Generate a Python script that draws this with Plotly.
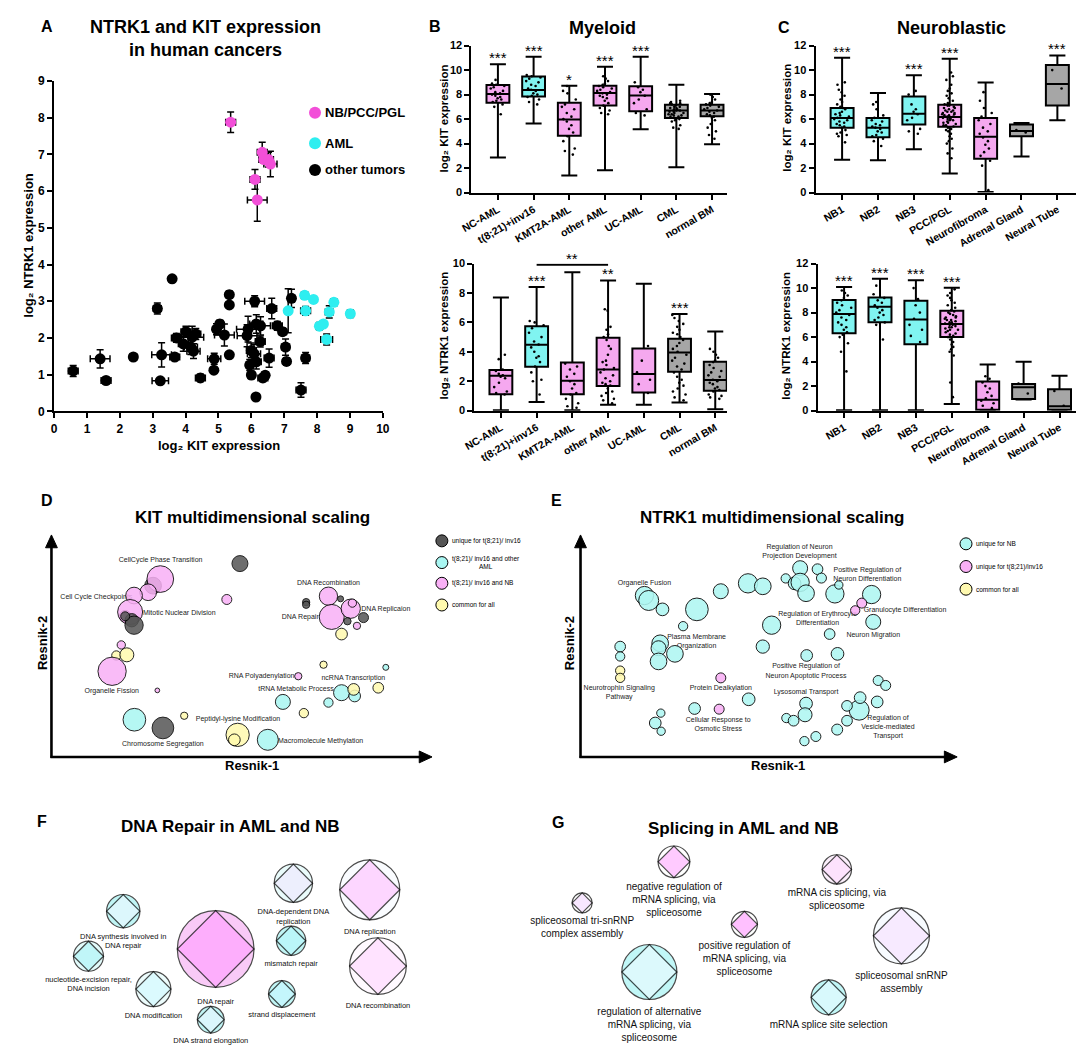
import plotly.graph_objects as go

W, H = 1084, 1045
FONT = "Liberation Sans, Arial, Helvetica, sans-serif"


def PX(x):
    return x / W


def PY(y):
    return 1 - y / H


PINK_BOX = "#F5A8EF"
CYAN_BOX = "#80F4F1"
GRAY_BOX = "#A6A6A6"

# ---------------- Panel A data ----------------
a_groups = ["NB/PCC/PGL", "AML", "other tumors"]
a_colors = ["#F24FD8", "#2EEEF0", "#000000"]

nb_kit = [5.37, 6.33, 6.38, 6.52, 6.58, 6.11, 6.18]
nb_ntrk = [7.88, 7.06, 6.86, 6.86, 6.74, 6.32, 5.76]
nb_kit_err = [0.15, 0.15, 0.15, 0.15, 0.20, 0.15, 0.30]
nb_ntrk_err = [0.28, 0.27, 0.10, 0.20, 0.35, 0.27, 0.58]

aml_kit = [7.12, 7.62, 7.89, 7.65, 8.37, 8.51, 9.01, 8.07, 8.19, 8.29]
aml_ntrk = [2.74, 3.16, 3.05, 2.74, 2.71, 2.97, 2.66, 2.32, 2.38, 1.96]
aml_kit_err = [0.05, 0.10, 0.05, 0.15, 0.12, 0.08, 0.10, 0.10, 0.08, 0.18]
aml_ntrk_err = [0.60, 0.10, 0.05, 0.12, 0.17, 0.10, 0.10, 0.10, 0.08, 0.15]

oth_kit = [0.58, 1.40, 1.58, 2.41, 3.14, 3.27, 3.23, 3.59, 3.67, 3.72, 3.93, 4.01,
           4.16, 4.24, 4.31, 4.20, 4.45, 4.86, 4.87, 4.94, 5.04, 5.18, 5.33, 5.33,
           5.33, 5.87, 5.90, 6.10, 6.15, 6.28, 6.27, 5.95, 6.00, 6.08, 6.15, 6.00,
           6.14, 6.35, 6.42, 6.54, 6.62, 6.79, 6.95, 7.04, 7.07, 7.22, 7.51, 7.65]
oth_ntrk = [1.10, 1.43, 0.84, 1.48, 2.80, 1.54, 0.83, 3.61, 1.48, 2.00, 1.84, 2.17,
            1.75, 1.64, 2.11, 2.02, 0.91, 1.12, 1.43, 2.24, 2.38, 2.08, 3.18, 2.90,
            1.54, 2.06, 2.24, 3.00, 2.38, 2.33, 1.90, 1.26, 1.66, 1.57, 1.35, 0.99,
            0.39, 0.91, 0.98, 1.45, 2.80, 2.33, 2.17, 1.75, 1.36, 3.08, 0.58, 1.45]
oth_kit_err = [0.15, 0.30, 0.15, 0.10, 0.12, 0.30, 0.25, 0.08, 0.15, 0.15, 0.15, 0.15,
               0.20, 0.20, 0.15, 0.35, 0.15, 0.05, 0.20, 0.10, 0.10, 0.30, 0.05, 0.05,
               0.07, 0.30, 0.35, 0.30, 0.20, 0.30, 0.15, 0.10, 0.15, 0.20, 0.15, 0.10,
               0.05, 0.15, 0.10, 0.15, 0.15, 0.15, 0.12, 0.12, 0.10, 0.10, 0.15, 0.12]
oth_ntrk_err = [0.15, 0.25, 0.05, 0.05, 0.15, 0.33, 0.07, 0.05, 0.05, 0.12, 0.20, 0.15,
                0.20, 0.20, 0.15, 0.30, 0.10, 0.05, 0.15, 0.15, 0.10, 0.30, 0.10, 0.05,
                0.08, 0.30, 0.35, 0.15, 0.25, 0.25, 0.15, 0.15, 0.20, 0.25, 0.20, 0.10,
                0.05, 0.10, 0.10, 0.25, 0.28, 0.12, 0.10, 0.22, 0.10, 0.25, 0.20, 0.15]

# ---------------- Panel B data (Myeloid) ----------------
my_cats = ["NC-AML", "t(8;21)+inv16", "KMT2A-AML", "other AML", "UC-AML", "CML", "normal BM"]
my_colors = [PINK_BOX, CYAN_BOX, PINK_BOX, PINK_BOX, PINK_BOX, GRAY_BOX, GRAY_BOX]

kit_my_min = [2.87, 5.64, 1.40, 1.83, 5.18, 2.07, 3.95]
kit_my_q1 = [7.33, 7.84, 4.64, 7.11, 6.63, 6.09, 6.23]
kit_my_med = [8.05, 8.38, 5.96, 8.13, 7.92, 6.71, 6.71]
kit_my_q3 = [8.78, 9.48, 7.33, 8.72, 8.67, 7.17, 7.17]
kit_my_max = [10.47, 11.09, 8.72, 10.28, 11.09, 8.81, 8.05]
kit_my_sig = ["***", "***", "*", "***", "***", "", ""]
kit_my_dots = [
    [9.2, 8.9, 8.8, 8.7, 8.6, 8.5, 8.3, 8.2, 8.1, 8.0, 7.9, 7.8, 7.7, 7.6, 7.5, 7.4, 7.2, 7.0, 6.4],
    [9.6, 9.5, 9.4, 9.3, 9.1, 9.0, 8.8, 8.7, 8.5, 8.4, 8.3, 8.1, 8.0, 7.9, 7.8, 7.6, 7.4, 7.2],
    [8.7, 8.3, 8.1, 7.6, 7.2, 7.0, 6.8, 6.5, 6.2, 6.0, 5.8, 5.5, 5.2, 4.9, 4.6, 4.2, 3.6, 3.4, 3.1],
    [9.5, 9.3, 9.1, 8.9, 8.8, 8.7, 8.6, 8.5, 8.4, 8.3, 8.2, 8.1, 8.0, 7.9, 7.8, 7.7, 7.5, 7.3,
     7.1, 6.9, 6.7, 6.5, 6.4],
    [9.0, 8.6, 8.4, 8.2, 7.9, 7.6, 7.3, 6.8, 6.5, 6.3],
    [7.5, 7.4, 7.3, 7.3, 7.2, 7.1, 7.0, 7.0, 6.9, 6.9, 6.8, 6.8, 6.7, 6.7, 6.6, 6.6, 6.5, 6.5,
     6.4, 6.4, 6.3, 6.3, 6.2, 6.2, 6.1, 6.1, 6.0, 6.0, 5.9, 5.8, 5.5, 5.3, 5.2],
    [8.0, 7.8, 7.6, 7.4, 7.3, 7.2, 7.1, 7.0, 6.9, 6.8, 6.7, 6.6, 6.5, 6.4, 6.3, 6.2, 6.1, 5.9,
     5.6, 5.3, 5.0, 4.7, 4.4],
]

ntrk_my_min = [0.03, 0.58, 0.03, 0.40, 0.40, 0.56, 0.10]
ntrk_my_q1 = [1.12, 2.98, 1.12, 1.68, 1.23, 2.65, 1.35]
ntrk_my_med = [2.38, 4.48, 2.04, 2.80, 2.49, 3.95, 2.09]
ntrk_my_q3 = [2.76, 5.74, 3.27, 4.96, 4.22, 4.89, 3.32]
ntrk_my_max = [7.69, 8.41, 9.42, 8.86, 8.63, 6.57, 5.38]
ntrk_my_sig = ["", "***", "", "**", "", "***", ""]
ntrk_my_dots = [
    [3.8, 3.5, 2.8, 2.7, 2.5, 2.4, 2.3, 2.2, 1.9, 1.6, 1.3, 1.2, 1.1],
    [6.1, 6.0, 5.8, 5.6, 5.3, 5.0, 4.7, 4.5, 4.3, 4.0, 3.7, 3.6, 3.3, 3.0, 2.6, 2.1, 2.0, 1.1],
    [3.2, 3.0, 2.8, 2.5, 2.3, 2.0, 1.8, 1.5, 1.2, 1.1, 0.8, 0.5, 0.3, 0.2],
    [6.9, 6.8, 5.7, 5.5, 5.2, 5.0, 4.8, 4.4, 4.2, 3.8, 3.4, 3.3, 3.1, 2.9, 2.8, 2.6, 2.4, 2.2,
     2.0, 1.9, 1.8, 1.7, 1.5, 1.3, 1.2, 1.0, 0.8, 0.7, 0.5],
    [4.4, 3.4, 2.6, 2.1, 1.8, 1.2],
    [6.5, 6.3, 6.1, 5.9, 5.7, 5.5, 5.3, 5.2, 5.0, 4.8, 4.6, 4.4, 4.2, 4.0, 3.8, 3.6, 3.4, 3.2,
     3.0, 2.8, 2.6, 2.3, 2.1, 1.9, 1.7, 1.5, 1.3, 1.1, 0.9, 0.7],
    [4.2, 4.0, 3.8, 3.6, 3.4, 3.3, 3.1, 2.9, 2.7, 2.6, 2.4, 2.3, 2.1, 2.0, 1.9, 1.8, 1.6, 1.5,
     1.4, 1.3, 1.1, 1.0, 0.9, 0.8],
]
bracket_pair = ["t(8;21)+inv16", "other AML"]
bracket_level = 9.93
bracket_sig = "**"

# ---------------- Panel C data (Neuroblastic) ----------------
nb_cats = ["NB1", "NB2", "NB3", "PCC/PGL", "Neurofibroma", "Adrenal Gland", "Neural Tube"]
nb_colors = [CYAN_BOX, CYAN_BOX, CYAN_BOX, PINK_BOX, PINK_BOX, GRAY_BOX, GRAY_BOX]

kit_nb_min = [2.68, 2.63, 3.54, 1.56, 0.05, 2.95, 5.91]
kit_nb_q1 = [5.29, 4.51, 5.56, 5.37, 2.77, 4.60, 7.11]
kit_nb_med = [6.09, 5.29, 6.44, 6.17, 4.56, 5.03, 8.86]
kit_nb_q3 = [6.90, 6.09, 7.84, 7.17, 6.09, 5.56, 10.42]
kit_nb_max = [11.0, 8.13, 9.57, 10.93, 8.99, 5.69, 11.2]
kit_nb_sig = ["***", "", "***", "***", "", "", "***"]
kit_nb_dots = [
    [9.0, 8.8, 8.4, 8.2, 7.9, 7.6, 7.4, 7.2, 7.0, 6.9, 6.8, 6.6, 6.5, 6.4, 6.3, 6.2, 6.1, 6.0,
     5.9, 5.8, 5.7, 5.6, 5.5, 5.4, 5.3, 5.1, 4.9, 4.8, 4.7, 4.6, 4.1],
    [7.4, 7.2, 6.8, 6.3, 6.1, 5.9, 5.8, 5.6, 5.5, 5.4, 5.3, 5.2, 5.0, 4.9, 4.7, 4.6, 4.4, 4.2, 3.8],
    [8.3, 8.0, 7.2, 6.8, 6.6, 6.4, 6.1, 5.9, 5.2, 5.0, 4.8],
    [9.8, 9.5, 9.2, 8.8, 8.5, 8.3, 8.1, 7.9, 7.7, 7.5, 7.3, 7.2, 7.1, 7.0, 6.9, 6.8, 6.7, 6.6,
     6.5, 6.4, 6.3, 6.2, 6.1, 6.0, 5.9, 5.8, 5.7, 5.6, 5.5, 5.4, 5.3, 5.2, 5.1, 5.0, 4.8, 4.6,
     4.4, 4.2, 4.0, 3.6, 3.2, 2.8, 7.1, 6.9, 6.7, 6.5, 6.3, 6.1, 5.9, 5.7, 5.5, 6.6, 6.4, 6.2, 6.0],
    [8.2, 7.5, 6.9, 6.5, 6.2, 5.9, 5.6, 5.3, 5.0, 4.8, 4.5, 4.2, 3.9, 3.6, 3.3, 3.0, 2.6, 2.2, 0.2],
    [5.1, 4.9],
    [10.0, 8.5],
]

ntrk_nb_min = [0.03, 0.03, 0.03, 0.54, 0.03, 0.90, 0.03]
ntrk_nb_q1 = [6.32, 7.21, 5.41, 6.00, 0.08, 0.94, 0.08]
ntrk_nb_med = [7.88, 8.47, 7.43, 7.08, 0.89, 1.91, 0.35]
ntrk_nb_q3 = [9.04, 9.23, 8.96, 8.15, 2.37, 2.18, 1.75]
ntrk_nb_max = [10.09, 10.76, 10.65, 10.04, 3.77, 3.98, 2.85]
ntrk_nb_sig = ["***", "***", "***", "***", "", "", ""]
ntrk_nb_dots = [
    [9.8, 9.6, 9.4, 9.2, 9.0, 8.8, 8.6, 8.4, 8.2, 8.0, 7.8, 7.6, 7.4, 7.2, 7.0, 6.8, 6.6, 6.4,
     6.2, 6.0, 5.5, 4.8, 3.2],
    [10.2, 9.5, 9.2, 9.0, 8.8, 8.6, 8.4, 8.2, 8.0, 7.8, 7.6, 7.4, 7.2, 7.0, 5.8],
    [10.0, 9.1, 8.6, 8.0, 7.5, 7.0, 6.6, 6.1, 5.6],
    [9.9, 9.6, 9.4, 9.2, 9.0, 8.8, 8.6, 8.4, 8.2, 8.1, 8.0, 7.9, 7.8, 7.7, 7.6, 7.5, 7.4, 7.3,
     7.2, 7.1, 7.0, 6.9, 6.8, 6.7, 6.6, 6.5, 6.4, 6.3, 6.2, 6.1, 6.0, 5.8, 5.6, 5.4, 5.2, 5.0,
     4.8, 4.5, 2.3, 1.1, 7.6, 7.4, 7.2, 7.0, 6.8, 6.6],
    [2.8, 2.6, 2.3, 2.0, 1.8, 1.5, 1.2, 1.0, 0.8, 0.6, 0.4, 0.2],
    [2.2, 1.4],
    [1.6, 0.4],
]

# ---------------- Panel D data (KIT MDS) ----------------
d_legend = ["unique for t(8;21)/ inv16", "t(8;21)/ inv16 and other<br>AML",
            "t(8;21)/ inv16 and NB", "common for all"]
d_group = ["unique", "unique", "pink", "unique", "pink", "pink", "pink", "unique", "unique",
           "unique", "pink", "yellow", "yellow", "pink", "pink", "pink", "pink", "unique",
           "unique", "unique", "pink", "pink", "pink", "unique", "unique", "pink", "yellow",
           "yellow", "cyan", "pink", "cyan", "cyan", "yellow", "yellow", "cyan", "cyan",
           "yellow", "cyan", "unique", "yellow", "yellow", "yellow", "cyan"]
d_x = [41.0, 67.5, 43.2, 32.5, 39.5, 35.2, 34.0, 34.5, 35.2, 32.5, 31.3, 29.8, 33.0, 28.5,
       42.3, 63.5, 94.5, 98.2, 87.7, 87.7, 95.5, 101.3, 101.8, 100.3, 105.2, 103.2, 98.5,
       93.0, 112.0, 85.3, 98.5, 102.5, 102.2, 109.7, 94.5, 80.6, 87.0, 35.3, 44.0, 50.5,
       66.8, 65.8, 76.0]
d_y = [57.5, 64.2, 59.5, 48.2, 55.5, 54.5, 49.5, 47.0, 45.5, 48.2, 39.5, 36.3, 36.5, 31.5,
       25.7, 53.3, 54.3, 53.5, 52.5, 51.7, 48.0, 50.5, 52.2, 46.7, 47.8, 45.3, 42.8, 33.5,
       32.7, 30.0, 25.0, 24.0, 26.0, 26.5, 22.0, 22.2, 18.8, 16.8, 14.3, 18.0, 12.2, 10.7, 10.7]
d_size = [16.7, 16.0, 26.7, 11.7, 16.7, 16.7, 25.0, 13.3, 18.3, 9.0, 8.3, 9.3, 14.0, 28.3,
          4.7, 10.0, 18.3, 6.0, 7.3, 7.3, 25.0, 19.3, 8.3, 7.3, 10.0, 7.3, 11.7, 7.3, 6.0,
          7.3, 16.0, 11.7, 11.7, 10.7, 9.3, 15.0, 9.3, 22.7, 21.7, 7.3, 23.3, 11.7, 21.0]
d_labels = ["CellCycle Phase Transition", "Cell Cycle Checkpoints", "Mitotic Nuclear Division",
            "Organelle Fission", "Chromosome Segregation", "Peptidyl-lysine Modification",
            "Macromolecule Methylation", "RNA Polyadenylation", "tRNA Metabolic Process",
            "ncRNA Transcription", "DNA Recombination", "DNA Repair", "DNA Replicaion"]
d_label_x = [43.3, 23.7, 49.0, 28.4, 44.0, 66.9, 92.1, 74.1, 84.6, 102.1, 94.5, 85.9, 112.0]
d_label_y = [65.2, 54.0, 49.0, 25.5, 9.2, 17.0, 10.3, 29.9, 26.0, 29.3, 58.3, 47.9, 50.3]

# ---------------- Panel E data (NTRK1 MDS) ----------------
e_legend = ["unique for NB", "unique for t(8;21)/inv16", "common for all"]
e_group = ["c"] * 18 + ["p", "p"] + ["c"] * 8 + ["y", "y"] + ["c"] * 4 + ["p", "c", "c", "p"] + ["c"] * 17
e_x = [28.7, 30.0, 34.2, 44.7, 40.5, 52.0, 60.3, 64.8, 71.8, 74.5, 76.2, 76.2, 78.0, 81.5,
       82.7, 86.8, 88.0, 98.0, 95.0, 93.0, 98.5, 67.5, 85.2, 64.8, 78.2, 87.6, 21.3, 21.3,
       21.3, 21.3, 33.5, 33.0, 33.0, 38.0, 52.0, 60.5, 44.0, 51.5, 33.7, 32.0, 33.8, 78.0,
       77.7, 72.0, 74.2, 77.5, 81.0, 94.2, 94.5, 90.5, 90.5, 87.5, 100.0, 102.3, 99.7]
e_y = [54.5, 53.0, 50.3, 50.3, 45.2, 55.8, 58.2, 57.3, 59.7, 58.2, 62.8, 58.5, 55.2, 62.5,
       59.8, 55.0, 57.7, 54.8, 52.2, 50.0, 46.5, 45.5, 42.8, 39.0, 36.3, 36.8, 39.0, 36.0,
       31.7, 29.5, 40.0, 38.5, 34.5, 36.8, 29.5, 23.0, 20.2, 20.0, 18.8, 15.8, 13.3, 21.7,
       18.3, 17.3, 16.5, 10.3, 11.7, 19.7, 23.5, 21.0, 16.5, 13.8, 28.7, 27.2, 22.2]
e_size = [18.3, 20.0, 12.7, 22.7, 9.3, 15.0, 19.3, 16.7, 9.3, 12.7, 15.0, 18.3, 16.7, 10.7,
          10.0, 18.3, 8.3, 18.3, 10.0, 9.3, 15.0, 18.3, 10.7, 13.3, 11.7, 12.7, 10.7, 9.3,
          9.3, 9.3, 16.7, 15.0, 16.7, 16.7, 10.0, 12.7, 11.7, 10.0, 8.3, 11.7, 8.3, 12.7,
          14.0, 9.3, 10.7, 9.3, 10.0, 20.0, 11.7, 10.7, 10.7, 11.0, 10.0, 10.0, 11.7]
e_labels = ["Organelle Fusion", "Regulation of Neuron<br>Projection Development",
            "Positive Regulation of<br>Neuron Differentiation", "Granulocyte Differentiation",
            "Regulation of Erythrocyte<br>Differentiation", "Neuron Migration",
            "Plasma Membrane<br>Organization", "Positive Regulation of<br>Neuron Apoptotic Process",
            "Neurotrophin Signaling<br>Pathway", "Protein Dealkylation", "Lysosomal Transport",
            "Cellular Response to<br>Osmotic Stress", "Regulation of<br>Vesicle-mediated<br>Transport"]
e_label_x = [28.7, 76.0, 96.7, 108.2, 81.5, 98.5, 44.6, 78.0, 21.0, 52.0, 78.0, 51.2, 103.0]
e_label_y = [58.2, 67.7, 60.7, 50.0, 47.4, 42.3, 40.4, 31.5, 24.9, 26.2, 25.2, 15.3, 14.5]

# ---------------- Panel F data (DNA repair network) ----------------
f_terms = ["DNA synthesis involved in<br>DNA repair", "nucleotide-excision repair,<br>DNA incision",
           "DNA modification", "DNA repair", "DNA strand elongation",
           "DNA-dependent DNA<br>replication", "mismatch repair", "strand displacement",
           "DNA replication", "DNA recombination"]
f_x = [31.8, 21.2, 41.0, 60.0, 58.5, 83.7, 83.0, 80.2, 107.0, 109.5]
f_y = [41.0, 27.3, 17.3, 29.5, 8.0, 49.5, 32.0, 15.8, 47.5, 24.3]
f_size = [33.3, 30.0, 35.0, 76.7, 26.7, 38.3, 29.3, 26.7, 60.0, 56.7]
f_outer = ["#A6F2F2", "#D6FAFA", "#E4FCFC", "#F7B5F5", "#A6F2F2", "#E0FAFA", "#A6F2F2",
           "#A6F2F2", "#F8FCFF", "#FFF7FF"]
f_inner = ["#E8F8FF", "#B3F5F7", "#D4FAFF", "#FFA3FF", "#E6F7FF", "#F0EBFF", "#B8F7FC",
           "#C6F7FF", "#FFC7FF", "#FFDBFF"]

# ---------------- Panel G data (splicing network) ----------------
g_terms = ["spliceosomal tri-snRNP<br>complex assembly",
           "negative regulation of<br>mRNA splicing, via<br>spliceosome",
           "positive regulation of<br>mRNA splicing, via<br>spliceosome",
           "regulation of alternative<br>mRNA splicing, via<br>spliceosome",
           "mRNA cis splicing, via<br>spliceosome", "spliceosomal snRNP<br>assembly",
           "mRNA splice site selection"]
g_x = [9.8, 37.8, 59.3, 30.3, 87.5, 107.2, 85.0]
g_y = [43.5, 56.0, 37.0, 22.5, 53.7, 33.5, 14.8]
g_size = [20.0, 31.7, 26.0, 55.0, 29.3, 56.0, 35.0]
g_outer = ["#FFFFFF", "#FFFFFF", "#FFFFFF", "#A8F5F5", "#FAE8FA", "#F5FAFF", "#A8F5F5"]
g_inner = ["#F6DDFF", "#FFB5FF", "#FFA6FF", "#E8FAFF", "#FFDDFF", "#F8E3FF", "#E3FAFF"]

# =====================================================================
fig = go.Figure()

# ---- Panel A ----
for kx, ky, ex, ey, col in [(oth_kit, oth_ntrk, oth_kit_err, oth_ntrk_err, a_colors[2]),
                            (aml_kit, aml_ntrk, aml_kit_err, aml_ntrk_err, a_colors[1]),
                            (nb_kit, nb_ntrk, nb_kit_err, nb_ntrk_err, a_colors[0])]:
    fig.add_trace(go.Scatter(
        x=kx, y=ky, mode="markers", xaxis="x", yaxis="y", showlegend=False, cliponaxis=False,
        marker=dict(color=col, size=11),
        error_x=dict(type="data", array=ex, color="black", thickness=1.5, width=3.5),
        error_y=dict(type="data", array=ey, color="black", thickness=1.5, width=3.5)))

# ---- Box panels ----
annotations = []
shapes = []


def add_boxes(cats, colors, lo, q1, med, q3, hi, dots, sig, xa, ya):
    for i, c in enumerate(cats):
        fig.add_trace(go.Box(
            x=[c], q1=[q1[i]], median=[med[i]], q3=[q3[i]], lowerfence=[lo[i]],
            upperfence=[hi[i]], fillcolor=colors[i], line=dict(color="black", width=2),
            width=0.64, whiskerwidth=0.7, boxpoints=False, xaxis=xa, yaxis=ya,
            showlegend=False, hoverinfo="skip"))
    for i, c in enumerate(cats):
        fig.add_trace(go.Box(
            x=[c] * len(dots[i]), y=dots[i], boxpoints="all", jitter=0.9, pointpos=0,
            fillcolor="rgba(0,0,0,0)", line=dict(color="rgba(0,0,0,0)", width=0),
            marker=dict(color="black", size=2.6), width=0.5, xaxis=xa, yaxis=ya,
            showlegend=False, hoverinfo="skip"))
    for i, c in enumerate(cats):
        if sig[i]:
            annotations.append(dict(
                x=c, y=hi[i], xref=xa, yref=ya, text=sig[i], showarrow=False,
                yanchor="bottom", yshift=-4, font=dict(family=FONT, size=15, color="black")))


add_boxes(my_cats, my_colors, kit_my_min, kit_my_q1, kit_my_med, kit_my_q3, kit_my_max,
          kit_my_dots, kit_my_sig, "x2", "y2")
add_boxes(my_cats, my_colors, ntrk_my_min, ntrk_my_q1, ntrk_my_med, ntrk_my_q3, ntrk_my_max,
          ntrk_my_dots, ntrk_my_sig, "x3", "y3")
add_boxes(nb_cats, nb_colors, kit_nb_min, kit_nb_q1, kit_nb_med, kit_nb_q3, kit_nb_max,
          kit_nb_dots, kit_nb_sig, "x4", "y4")
add_boxes(nb_cats, nb_colors, ntrk_nb_min, ntrk_nb_q1, ntrk_nb_med, ntrk_nb_q3, ntrk_nb_max,
          ntrk_nb_dots, ntrk_nb_sig, "x5", "y5")

i0 = my_cats.index(bracket_pair[0])
i1 = my_cats.index(bracket_pair[1])
shapes.append(dict(type="line", xref="x3", yref="y3", x0=i0, x1=i1, y0=bracket_level,
                   y1=bracket_level, line=dict(color="black", width=2)))
annotations.append(dict(x=(i0 + i1) / 2, y=bracket_level, xref="x3", yref="y3", text=bracket_sig,
                        showarrow=False, yanchor="bottom", yshift=-4,
                        font=dict(family=FONT, size=15, color="black")))

# ---- Panel D ----
col_map = {"unique": "#555555", "cyan": "#A9F6F2", "pink": "#F9B0F6", "yellow": "#FFFAAE"}
fig.add_trace(go.Scatter(
    x=d_label_x, y=d_label_y, mode="text", text=d_labels, xaxis="x6", yaxis="y6",
    textfont=dict(family=FONT, size=7, color="#222222"), showlegend=False, cliponaxis=False,
    hoverinfo="skip"))
fig.add_trace(go.Scatter(
    x=d_x, y=d_y, mode="markers", xaxis="x6", yaxis="y6", showlegend=False, cliponaxis=False,
    marker=dict(size=d_size, color=[col_map[g] for g in d_group], opacity=0.85,
                line=dict(color="black", width=1))))

# ---- Panel E ----
e_map = {"c": "#AFF7F2", "p": "#F9B0F5", "y": "#FFF9B0"}
fig.add_trace(go.Scatter(
    x=e_label_x, y=e_label_y, mode="text", text=e_labels, xaxis="x7", yaxis="y7",
    textfont=dict(family=FONT, size=7, color="#222222"), showlegend=False, cliponaxis=False,
    hoverinfo="skip"))
fig.add_trace(go.Scatter(
    x=e_x, y=e_y, mode="markers", xaxis="x7", yaxis="y7", showlegend=False, cliponaxis=False,
    marker=dict(size=e_size, color=[e_map[g] for g in e_group], opacity=0.88,
                line=dict(color="black", width=1))))

# ---- Panels F and G (circle + inscribed diamond) ----
for xs, ys, sz, outer, inner, terms, xa, ya, fs in [
        (f_x, f_y, f_size, f_outer, f_inner, f_terms, "x8", "y8", 7.5),
        (g_x, g_y, g_size, g_outer, g_inner, g_terms, "x9", "y9", 10)]:
    fig.add_trace(go.Scatter(
        x=xs, y=ys, mode="markers+text", text=terms, textposition="bottom center",
        textfont=dict(family=FONT, size=fs, color="#111111"), xaxis=xa, yaxis=ya,
        showlegend=False, cliponaxis=False,
        marker=dict(size=sz, color=outer, line=dict(color="black", width=1.2))))
    fig.add_trace(go.Scatter(
        x=xs, y=ys, mode="markers", xaxis=xa, yaxis=ya, showlegend=False, cliponaxis=False,
        marker=dict(symbol="diamond", size=[s / 1.3 for s in sz], color=inner,
                    line=dict(color="black", width=1.2))))


# ---------------- Text / decorations ----------------
def txt(text, x, y, size, bold=False, xanchor="center", yanchor="middle", angle=0, align="center"):
    annotations.append(dict(
        text=text, x=PX(x), y=PY(y), xref="paper", yref="paper", showarrow=False,
        xanchor=xanchor, yanchor=yanchor, textangle=angle, align=align,
        font=dict(family=FONT, size=size, color="black", weight="bold" if bold else "normal")))


# panel letters
for letter, lx, ly in [("A", 28, 12), ("B", 423, 12), ("C", 778, 13), ("D", 28, 492),
                       ("E", 547, 492), ("F", 23, 817), ("G", 548, 818)]:
    txt(letter, lx, ly, 16, bold=True)

txt("NTRK1 and KIT expression<br>in human cancers", 190, 24, 18, bold=True)
txt("Myeloid", 593, 13, 18, bold=True)
txt("Neuroblastic", 948, 13, 18, bold=True)
txt("KIT multidimensional scaling", 237, 509, 17, bold=True)
txt("NTRK1 multidimensional scaling", 766, 509, 17, bold=True)
txt("DNA Repair in AML and NB", 215, 823, 17, bold=True)
txt("Splicing in AML and NB", 737, 825, 17, bold=True)

# axis titles
txt("log₂ NTRK1 expression", 10, 233, 13, bold=True, angle=-90)
txt("log₂ KIT expression", 203, 436, 13, bold=True)
txt("log₂ KIT expression", 432, 105, 11.5, bold=True, angle=-90)
txt("log₂ NTRK1 expression", 432, 325, 11.5, bold=True, angle=-90)
txt("log₂ KIT expression", 781, 104, 11.5, bold=True, angle=-90)
txt("log₂ NTRK1 expression", 780, 325, 11.5, bold=True, angle=-90)
txt("Resnik-1", 237, 761, 13, bold=True)
txt("Resnik-2", 24, 637, 13, bold=True, angle=-90)
txt("Resnik-1", 772, 761, 13, bold=True)
txt("Resnik-2", 560, 637, 13, bold=True, angle=-90)

# Panel A legend
for i, (lab, col) in enumerate(zip(a_groups, a_colors)):
    cy = [99, 130, 157][i]
    shapes.append(dict(type="circle", xref="paper", yref="paper", xsizemode="pixel",
                       ysizemode="pixel", xanchor=PX(301), yanchor=PY(cy), x0=-6, x1=6, y0=-6,
                       y1=6, fillcolor=col, line=dict(width=0)))
    txt(lab, 309, cy, 13, bold=True, xanchor="left")

# Panel D legend
d_leg_cols = [col_map["unique"], col_map["cyan"], col_map["pink"], col_map["yellow"]]
for i, lab in enumerate(d_legend):
    cy = [533, 555, 576, 598][i]
    shapes.append(dict(type="circle", xref="paper", yref="paper", xsizemode="pixel",
                       ysizemode="pixel", xanchor=PX(430), yanchor=PY(cy), x0=-6, x1=6, y0=-6,
                       y1=6, fillcolor=d_leg_cols[i], line=dict(color="black", width=1)))
    txt(lab, 438, cy, 6.5, xanchor="left")

# Panel E legend
e_leg_cols = [e_map["c"], e_map["p"], e_map["y"]]
for i, lab in enumerate(e_legend):
    cy = [536, 559, 582][i]
    shapes.append(dict(type="circle", xref="paper", yref="paper", xsizemode="pixel",
                       ysizemode="pixel", xanchor=PX(963), yanchor=PY(cy), x0=-6, x1=6, y0=-6,
                       y1=6, fillcolor=e_leg_cols[i], line=dict(color="black", width=1)))
    txt(lab, 971, cy, 6.5, xanchor="left")


# MDS arrows (line + triangular head as shapes)
def arrow(x0, y0, x1, y1):
    # x0,y0 tail; x1,y1 head (pixels); axis-aligned
    L = 13
    hw = 6
    if x0 == x1:  # vertical, pointing up
        shapes.append(dict(type="line", xref="paper", yref="paper", x0=PX(x0), y0=PY(y0),
                           x1=PX(x1), y1=PY(y1 + L - 1), line=dict(color="black", width=2.6)))
        path = "M {} {} L {} {} L {} {} Z".format(PX(x1), PY(y1), PX(x1 - hw), PY(y1 + L),
                                                  PX(x1 + hw), PY(y1 + L))
    else:  # horizontal, pointing right
        shapes.append(dict(type="line", xref="paper", yref="paper", x0=PX(x0), y0=PY(y0),
                           x1=PX(x1 - L + 1), y1=PY(y1), line=dict(color="black", width=2.6)))
        path = "M {} {} L {} {} L {} {} Z".format(PX(x1), PY(y1), PX(x1 - L), PY(y1 - hw),
                                                  PX(x1 - L), PY(y1 + hw))
    shapes.append(dict(type="path", xref="paper", yref="paper", path=path,
                       fillcolor="black", line=dict(color="black", width=1)))


arrow(33, 753, 33, 527)
arrow(32, 752, 420, 752)
arrow(571, 753, 571, 527)
arrow(570, 752, 954, 752)


# ---------------- Axes ----------------
def axis_style(**kw):
    d = dict(showline=True, linecolor="black", linewidth=2, ticks="outside", tickwidth=2,
             ticklen=5, tickcolor="black", showgrid=False, zeroline=False, fixedrange=True,
             tickfont=dict(family=FONT, size=11, color="black", weight="bold"))
    d.update(kw)
    return d


def hidden(**kw):
    d = dict(visible=False, showgrid=False, zeroline=False, fixedrange=True)
    d.update(kw)
    return d


cat_font = dict(family=FONT, size=10.5, color="black", weight="bold")

fig.update_layout(
    width=W, height=H, margin=dict(l=0, r=0, t=0, b=0),
    paper_bgcolor="white", plot_bgcolor="rgba(0,0,0,0)", boxmode="overlay",
    font=dict(family=FONT, color="black"),
    xaxis=axis_style(domain=[PX(35.7), PX(370)], range=[0, 10], dtick=1, anchor="y",
                     tickfont=dict(family=FONT, size=12, color="black", weight="bold")),
    yaxis=axis_style(domain=[PY(401.7), PY(67)], range=[0, 9], dtick=1, anchor="x",
                     tickfont=dict(family=FONT, size=12, color="black", weight="bold")),
    xaxis2=axis_style(domain=[PX(460), PX(720)], range=[-0.744, 6.42], type="category",
                      categoryorder="array", categoryarray=my_cats, tickangle=-30,
                      tickfont=cat_font, anchor="y2"),
    yaxis2=axis_style(domain=[PY(180), PY(31)], range=[0, 12], dtick=2, anchor="x2"),
    xaxis3=axis_style(domain=[PX(463), PX(720)], range=[-0.744, 6.33], type="category",
                      categoryorder="array", categoryarray=my_cats, tickangle=-30,
                      tickfont=cat_font, anchor="y3"),
    yaxis3=axis_style(domain=[PY(401), PY(252)], range=[0, 10], dtick=2, anchor="x3"),
    xaxis4=axis_style(domain=[PX(810), 1.0], range=[-0.74, 6.77], type="category",
                      categoryorder="array", categoryarray=nb_cats, tickangle=-30,
                      tickfont=cat_font, anchor="y4"),
    yaxis4=axis_style(domain=[PY(180), PY(31)], range=[0, 12], dtick=2, anchor="x4"),
    xaxis5=axis_style(domain=[PX(812), 1.0], range=[-0.74, 6.71], type="category",
                      categoryorder="array", categoryarray=nb_cats, tickangle=-30,
                      tickfont=cat_font, anchor="y5"),
    yaxis5=axis_style(domain=[PY(401), PY(252)], range=[0, 12], dtick=2, anchor="x5"),
    xaxis6=hidden(domain=[PX(33), PX(418)], range=[10, 125.5], anchor="y6"),
    yaxis6=hidden(domain=[PY(752), PY(530)], range=[5.5, 72], anchor="x6"),
    xaxis7=hidden(domain=[PX(571), PX(952)], range=[9.2, 123.5], anchor="y7"),
    yaxis7=hidden(domain=[PY(752), PY(530)], range=[5.5, 72], anchor="x7"),
    xaxis8=hidden(domain=[0, PX(540)], range=[0, 162], anchor="y8"),
    yaxis8=hidden(domain=[0, PY(790)], range=[0, 76.5], anchor="x8"),
    xaxis9=hidden(domain=[PX(540), 1.0], range=[0, 163.2], anchor="y9"),
    yaxis9=hidden(domain=[0, PY(790)], range=[0, 76.5], anchor="x9"),
    annotations=annotations,
    shapes=shapes,
)

fig.write_html("out.html")
